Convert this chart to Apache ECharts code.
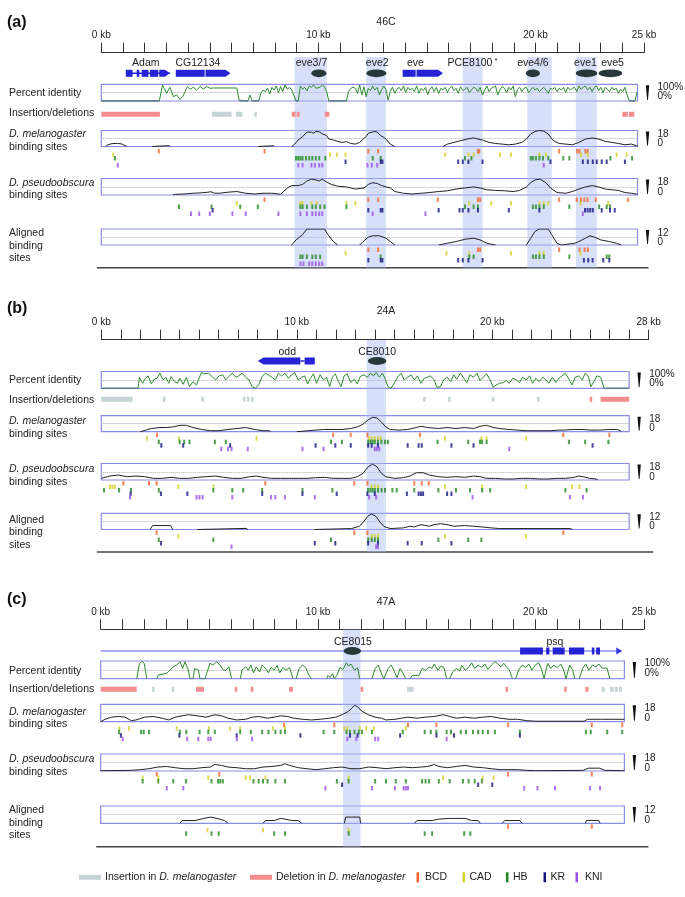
<!DOCTYPE html>
<html><head><meta charset="utf-8">
<script src="https://cdn.jsdelivr.net/npm/echarts/dist/echarts.min.js"></script>
<style>html,body{margin:0;padding:0;background:#fff}#c{width:685px;height:897px}</style>
</head><body><div id="c"></div>
<script>
// ---------------- DATA ----------------
const FACTORS = ['BCD','CAD','HB','KR','KNI'];
const FACTOR_COLORS = ['#f2642c','#d2d22c','#208a20','#14147e','#9a50ea'];

// Panel (a) 46C
const A_pi = [[0,0],[2.67,0],[2.82,96],[3.01,46],[3.16,82],[3.32,26],[3.47,36],[3.63,10],[3.75,26],[3.86,56],[3.96,86],[4.09,70],[4.24,82],[4.39,66],[4.55,86],[4.7,72],[4.86,86],[5.01,76],[5.16,78],[6.24,78],[6.34,6],[6.36,0],[6.75,0],[6.85,36],[6.95,0],[7.25,0],[7.35,46],[7.45,66],[7.56,56],[7.66,76],[7.76,42],[7.86,82],[7.96,66],[8.06,90],[8.16,50],[8.26,86],[8.36,56],[8.46,96],[8.57,70],[8.67,82],[8.77,66],[8.97,0],[9.07,0],[9.17,90],[9.27,70],[9.37,82],[9.47,62],[9.58,90],[9.68,82],[9.78,96],[9.88,76],[10.08,82],[10.18,96],[10.28,86],[10.38,56],[10.48,0],[11.29,0],[11.39,56],[11.49,76],[11.6,82],[11.7,76],[11.8,46],[11.9,96],[12.0,36],[12.1,86],[12.2,26],[12.3,76],[12.4,62],[12.5,90],[12.6,66],[12.71,82],[12.81,36],[12.91,66],[13.01,90],[13.11,70],[13.21,6],[13.31,56],[13.41,82],[13.52,46],[13.62,70],[13.72,82],[13.82,62],[13.92,90],[14.02,50],[14.12,82],[14.22,66],[14.32,76],[14.42,56],[14.53,90],[14.63,46],[14.73,76],[14.83,62],[14.93,82],[15.03,36],[15.13,70],[15.23,86],[15.33,56],[15.43,82],[15.54,46],[15.64,76],[15.74,66],[15.84,82],[15.94,50],[16.04,76],[16.14,90],[16.24,62],[16.34,76],[16.44,46],[16.55,86],[16.65,62],[16.75,70],[16.85,82],[16.95,50],[17.05,66],[17.15,82],[17.25,76],[17.35,56],[17.45,82],[17.56,36],[17.66,66],[17.76,90],[17.86,56],[17.96,76],[18.06,82],[18.16,90],[18.26,36],[18.36,66],[18.46,86],[18.57,76],[18.67,50],[18.77,82],[18.87,66],[18.97,90],[19.07,26],[19.17,70],[19.27,82],[19.37,56],[19.47,76],[19.58,82],[19.68,50],[19.78,66],[19.88,82],[19.98,66],[20.08,76],[20.18,56],[20.28,70],[20.38,82],[20.48,66],[20.59,46],[20.69,76],[20.79,70],[20.89,82],[20.99,56],[21.09,76],[21.19,66],[21.29,82],[21.39,50],[21.49,82],[21.6,66],[21.7,76],[21.8,82],[21.9,56],[22.0,90],[22.1,70],[22.2,82],[22.3,90],[22.4,66],[22.51,82],[22.61,56],[22.71,82],[22.81,90],[22.91,62],[23.01,82],[23.11,50],[23.21,82],[23.31,70],[23.41,56],[23.52,82],[23.62,66],[23.72,76],[23.82,46],[23.92,70],[24.02,56],[24.12,82],[24.22,36],[24.32,0],[24.58,0],[24.68,55]];
const A_mel = [[0.2,0],[0.3,1.9],[0.5,3.3],[0.75,3.5],[0.95,2.8],[1.18,0],null,[2.35,0],[2.42,0.9],[3.1,0.9],[3.18,0],null,[7.23,0],[7.3,0.8],[7.92,0.8],[7.98,0],null,[8.77,0],[8.91,2.7],[9.07,7.3],[9.27,11.1],[9.47,16.1],[9.68,16.1],[9.78,14.9],[9.88,16.9],[10.04,16.5],[10.18,14.2],[10.38,12.3],[10.48,8.4],[10.69,7.3],[10.89,5.7],[11.09,4.6],[11.29,5.4],[11.49,3.4],[11.7,2.7],[11.9,4.6],[12.06,8.4],[12.2,11.1],[12.3,14.9],[12.46,16.1],[12.61,16.9],[12.71,16.1],[12.87,12.3],[13.01,10.3],[13.11,8.4],[13.31,2.7],[13.52,0],null,[15.74,0],[15.94,2.7],[16.24,4.6],[16.55,6.5],[16.85,8.4],[17.15,9.6],[17.35,8.4],[17.56,7.3],[17.86,4.6],[18.16,3.4],[18.46,2.7],[18.77,1.9],[19.07,2.7],[19.37,4.6],[19.58,8.4],[19.78,14.2],[19.98,16.9],[20.18,18],[20.38,17.2],[20.59,14.2],[20.75,8.4],[20.89,5.7],[21.09,3.4],[21.39,2.7],[21.7,1.9],[22.0,4.6],[22.3,8.4],[22.61,9.6],[22.91,8.4],[23.21,5.7],[23.52,4.6],[23.82,3.4],[24.12,1.9],[24.42,2.7],[24.7,0.5]];
const A_pse = [[3.3,0],[3.41,0.8],[3.75,1.0],[4.22,1.9],[4.55,2.3],[4.9,3.0],[5.05,3.6],[5.2,2.0],[5.43,1.9],[5.84,3.1],[6.24,3.8],[6.65,1.9],[7.05,1.1],[7.45,1.9],[7.86,1.9],[8.26,0.8],[8.57,7.7],[8.77,10.3],[9.07,10.3],[9.27,11.5],[9.47,15.3],[9.68,17.2],[9.88,16.5],[10.04,15.3],[10.18,17.2],[10.38,14.2],[10.59,11.5],[10.89,9.6],[11.29,8.8],[11.7,6.5],[12.1,7.7],[12.3,11.5],[12.5,13.4],[12.71,12.6],[12.91,10.3],[13.11,8.8],[13.31,7.7],[13.52,3.8],[13.92,1.9],[14.32,1.1],[14.73,1.9],[15.13,2.7],[15.54,3.8],[15.94,4.6],[16.34,6.5],[16.75,7.7],[17.15,8.8],[17.45,7.7],[17.76,5.7],[18.16,5.0],[18.57,4.6],[18.97,3.8],[19.27,5.0],[19.58,8.8],[19.78,13.4],[19.98,16.5],[20.22,17.2],[20.48,13.4],[20.69,7.7],[20.99,2.7],[21.39,1.9],[21.7,3.8],[22.0,6.5],[22.3,8.8],[22.61,10.3],[22.91,8.8],[23.21,6.5],[23.52,5.7],[23.82,5.0],[24.12,2.7],[24.42,1.9],[24.7,0.8]];
const A_aln = [[8.77,0],[8.97,3.8],[9.27,7.7],[9.47,12],[10.28,12],[10.44,7.7],[10.69,2.6],[10.89,0],null,[11.9,0],[12.06,2.6],[12.3,5.9],[12.5,6.9],[12.81,6.9],[13.11,5.1],[13.31,2.6],[13.52,0],null,[15.54,0],[15.94,1.3],[16.34,2.6],[16.75,4.3],[17.15,5.1],[17.45,3.8],[17.76,1.3],[18.16,0],null,[19.58,0],[19.78,5.1],[19.98,10.2],[20.18,12],[20.59,12],[20.75,7.7],[20.99,1.3],[21.19,0],[21.8,1.3],[22.0,2.6],[22.3,5.1],[22.51,6.9],[22.71,5.9],[23.01,3.8],[23.41,2.6],[23.72,1.3],[23.95,0]];
const A_melSites = [
  [2.65,7.52,12.3,12.75,17.35,17.41,21.09,21.92,22.02,22.3,22.4],
  [0.55,10.53,10.85,11.25,15.84,16.91,17.15,18.36,18.87,20.18,20.48,22.1,22.4,23.74,24.2],
  [0.63,8.97,9.07,9.17,9.27,9.43,9.58,9.72,9.88,10.04,10.32,12.5,12.87,16.75,17.05,19.78,19.88,20.02,20.18,20.34,20.59,21.28,21.56,23.45,24.45],
  [11.25,12.87,12.95,16.44,16.65,16.91,17.56,20.69,22.18,22.41,22.64,22.82,23.05,23.28,24.12],
  [0.76,9.07,9.27,9.68,9.84,10.04,10.18,12.26,12.46,12.71,20.38]
];
const A_pseSites = [
  [7.52,12.3,12.75,15.5,17.35,17.45,21.09,21.9,22.1,22.25,22.4,22.78,24.27],
  [6.24,9.17,9.27,9.68,9.92,11.29,11.7,16.95,17.96,18.87,20.18,20.38,20.59,22.08,23.35],
  [3.58,5.08,6.4,7.21,9.17,9.27,9.47,9.72,9.88,10.08,10.28,11.29,16.75,17.15,17.35,19.88,20.02,20.18,20.38,21.56,22.93,23.28,23.43],
  [5.13,12.3,12.87,12.95,15.54,16.5,16.65,16.91,17.35,18.77,20.18,22.28,22.4,22.52,22.64,23.05,23.43,23.65],
  [4.13,4.51,5.0,6.04,6.65,8.16,9.17,9.47,9.72,9.88,10.04,10.18,12.5,14.93,22.18]
];
const A_alnSites = [
  [12.3,12.75,17.35,17.45,21.09,22.03,22.26,22.41],
  [11.25,15.9,16.95,18.87,20.18,20.38,22.08],
  [9.17,9.27,9.47,9.72,9.88,10.08,12.87,16.95,17.15,19.88,20.02,20.18,20.38,21.56,23.28,23.4],
  [12.3,12.87,12.95,16.44,16.65,16.91,17.56,22.23,22.43,22.63,23.12,23.4],
  [9.17,9.31,9.58,9.72,9.88,10.04,10.18]
];
const A_insertions = [[5.1,6.0],[6.2,6.5],[7.05,7.15]];
const A_deletions = [[0,2.7],[8.77,8.95],[9.0,9.13],[10.3,10.5],[24.0,24.25],[24.3,24.55]];
const A_bands = [[8.9,10.39],[12.2,13.11],[16.65,17.56],[19.62,20.75],[21.86,22.82]];
const A_geneParts = [[1.13,3.16,'line'],[1.13,1.44,'box'],[1.63,1.75,'box'],[1.86,2.17,'box'],[2.24,2.62,'box'],[2.67,3.16,'right'],[3.43,4.76,'box'],[4.8,5.95,'right'],[13.88,14.48,'box'],[14.52,15.74,'right']];
const A_elements = [[10.02,0.7],[12.67,0.92],[19.88,0.65],[22.35,1.0],[23.45,1.1]];
const A_geneLabels = [['Adam',2.05],['CG12134',4.45],['eve3/7',9.68],['eve2',12.71],['eve',14.47],['PCE8100*',17.1],['eve4/6',19.88],['eve1',22.3],['eve5',23.55]];

// Panel (b) 24A
const B_pi = [[0,0],[1.88,0],[1.95,66],[2.11,30],[2.26,60],[2.4,74],[2.56,26],[2.71,54],[2.85,60],[3.0,90],[3.16,50],[3.3,66],[3.45,30],[3.57,70],[3.74,40],[3.9,30],[4.01,60],[4.19,24],[4.35,66],[4.51,10],[4.69,40],[4.87,20],[5.02,66],[5.13,94],[5.25,86],[5.47,90],[5.7,66],[5.85,50],[6.03,74],[6.21,80],[6.37,50],[6.52,70],[6.7,90],[6.88,66],[7.04,74],[7.2,90],[7.38,66],[7.56,50],[7.71,10],[7.87,0],[8.05,20],[8.23,70],[8.39,90],[8.54,80],[8.72,66],[8.9,50],[9.06,90],[9.22,74],[9.39,90],[9.57,60],[9.73,80],[9.89,94],[10.07,50],[10.25,66],[10.4,74],[10.56,26],[10.7,60],[10.85,86],[11.01,30],[11.19,80],[11.37,50],[11.52,66],[11.68,10],[11.82,66],[11.97,86],[12.13,40],[12.26,10],[12.42,74],[12.58,86],[12.76,34],[12.94,54],[13.09,26],[13.25,70],[13.43,80],[13.61,66],[13.77,90],[13.92,74],[14.06,94],[14.22,66],[14.37,90],[14.51,60],[14.66,10],[14.82,0],[15.0,34],[15.18,70],[15.34,90],[15.49,50],[15.67,66],[15.85,80],[16.01,50],[16.17,74],[16.35,30],[16.52,60],[16.68,66],[16.84,74],[17.02,50],[17.17,6],[17.35,10],[17.51,50],[17.69,66],[17.87,40],[18.03,80],[18.18,54],[18.36,90],[18.54,60],[18.7,34],[18.86,80],[19.04,66],[19.22,90],[19.37,46],[19.53,66],[19.71,86],[19.89,50],[20.04,6],[20.2,20],[20.38,30],[20.56,34],[20.72,46],[20.87,30],[21.05,60],[21.23,50],[21.39,34],[21.55,66],[21.73,50],[21.91,74],[22.06,30],[22.22,60],[22.4,40],[22.58,66],[22.74,50],[22.89,30],[23.07,66],[23.25,34],[23.41,60],[23.57,74],[23.74,90],[23.92,54],[24.08,20],[24.24,66],[24.42,74],[24.6,50],[24.75,90],[24.91,74],[25.04,10],[25.2,40],[25.36,74],[25.54,66],[25.72,0],[27.0,0]];
const B_mel = [[2.0,0],[2.1,1.1],[2.56,3.6],[3.0,4.7],[3.34,4.7],[3.68,5.4],[4.01,7.2],[4.35,7.2],[4.69,4.7],[5.13,2.5],[5.58,1.1],[6.03,1.1],[6.48,2.5],[6.93,3.6],[7.38,4.7],[7.83,2.5],[8.27,1.1],[8.61,1.1],[8.65,0],null,[10.0,0],[10.07,1.8],[10.96,1.8],[11.41,2.5],[11.86,2.5],[12.31,2.5],[12.76,3.6],[13.1,5.4],[13.38,8.3],[13.65,13.3],[13.88,16.2],[14.1,15.5],[14.33,10.8],[14.55,5.4],[14.78,2.5],[15.22,1.8],[15.67,2.5],[16.12,4.7],[16.35,6.1],[16.68,4.7],[17.24,3.6],[17.69,4.7],[18.14,3.6],[18.59,4.7],[19.04,3.6],[19.37,6.1],[19.71,7.2],[20.04,4.7],[20.38,3.6],[20.83,2.5],[21.28,1.8],[21.73,1.1],[22.6,1.1],[23.0,1.1],[23.36,1.8],[23.68,1.8],[24.14,2.5],[24.59,2.5],[25.04,1.8],[25.49,1.8],[25.94,2.5],[26.39,2.5],[26.55,1.1],[26.6,0]];
const B_pse = [[0,1.8],[0.43,4.3],[0.87,5.4],[1.32,3.6],[1.77,4.3],[2.22,3.6],[2.67,1.8],[3.12,1.8],[3.57,2.9],[4.01,1.8],[4.46,1.8],[4.91,2.9],[5.36,3.6],[5.81,4.3],[6.26,2.9],[6.7,1.8],[7.15,1.8],[7.6,3.6],[7.94,4.3],[8.27,2.9],[8.72,1.8],[9.17,1.8],[9.62,1.8],[10.07,1.8],[10.52,1.8],[10.96,2.5],[11.41,2.9],[11.86,1.8],[12.31,1.8],[12.76,1.8],[13.09,3.6],[13.39,7.2],[13.65,14.4],[13.88,17.3],[14.1,14.4],[14.33,7.2],[14.55,3.6],[15.0,1.8],[15.45,2.5],[15.78,4.3],[16.12,7.9],[16.46,7.9],[16.79,5.4],[17.24,3.6],[17.69,2.9],[18.14,3.6],[18.59,2.9],[19.04,4.3],[19.37,3.6],[19.71,1.8],[20.16,1.8],[20.61,1.1],[21.05,1.1],[21.5,1.8],[21.95,1.8],[22.4,1.1],[22.85,1.1],[23.3,1.8],[23.74,1.8],[24.19,2.9],[24.42,4.3],[24.64,3.6],[24.98,1.8],[25.31,1.1],[25.4,0]];
const B_aln = [[2.5,0],[2.62,2.9],[3.55,2.9],[3.65,0],null,[4.9,0],[5.0,0.8],[7.4,0.8],[7.5,0],null,[10.9,0],[11.0,0.7],[12.8,0.7],[13.21,2.4],[13.43,6],[13.65,10.1],[13.83,11.5],[14.06,9.6],[14.28,4.8],[14.51,1.9],[14.78,0.7],[15.45,1.2],[15.78,2.4],[16.01,1.9],[16.35,3.6],[16.79,2.4],[17.02,3.6],[17.35,4.3],[17.69,3.6],[18.03,2.4],[18.59,2.9],[19.04,2.4],[19.48,1.9],[19.93,1.2],[20.38,0.7],[23.97,0.7],[24.1,0]];
const B_melSites = [
  [2.85,11.86,12.76,13.61,16.3,23.63,25.99],
  [2.33,3.97,7.94,13.7,13.83,13.99,14.15,14.28,17.58,19.44,19.71,21.73],
  [2.94,4.01,4.24,4.51,5.81,6.37,11.75,12.31,13.65,13.77,13.88,13.99,14.15,14.33,14.51,14.66,17.2,18.77,19.37,19.48,19.71,23.92,24.75,25.94],
  [3.07,4.19,6.59,10.96,11.97,12.76,13.65,13.83,14.15,15.67,16.23,16.39,17.91,19.04,25.13],
  [6.14,6.48,6.66,7.49,10.29,11.37,13.99,14.1,14.22,20.87]
];
const B_pseSites = [
  [1.13,2.44,2.83,8.39,12.94,13.61,16.01,16.39,16.75],
  [0.45,0.57,0.69,3.94,5.73,13.83,13.99,14.15,17.58,19.48,21.73,24.08,24.46],
  [0.14,0.91,1.52,2.94,5.73,6.7,7.26,8.23,10.29,11.82,13.65,13.77,13.88,13.99,14.15,14.33,14.51,14.89,15.11,16.01,17.24,18.14,18.86,19.48,19.89,23.74,24.82],
  [1.5,3.05,4.4,8.23,10.29,12.04,13.61,13.99,15.63,16.23,16.35,16.46,17.69,17.91],
  [1.47,4.87,5.02,5.18,6.7,8.68,8.9,9.39,10.92,13.7,14.06,18.99,23.97,24.64]
];
const B_alnSites = [
  [2.83,12.94,13.61,23.63],
  [3.94,13.83,13.99,14.15,17.58,21.73],
  [2.94,5.73,11.75,13.65,13.83,13.99,14.15,17.24,18.77,19.44],
  [3.05,10.92,11.97,13.65,14.15,15.67,16.39,17.91],
  [6.66,14.06,14.15]
];
const B_insertions = [[0,1.6],[3.15,3.27],[5.12,5.24],[7.25,7.35],[7.45,7.55],[7.66,7.76],[16.46,16.58],[17.74,17.86],[19.98,20.1],[22.29,22.41]];
const B_deletions = [[24.98,25.1],[25.54,27.0]];
const B_bands = [[13.57,14.56]];
const B_geneParts = [[8.0,10.18,'left'],[10.18,10.4,'line'],[10.4,10.92,'box']];
const B_elements = [[14.11,0.95]];
const B_geneLabels = [['odd',9.51],['CE8010',14.11]];

// Panel (c) 47A
const C_pi = [[1.66,0],[1.78,85],[1.9,98],[2.0,88],[2.12,0],null,[2.58,0],[2.65,21],[3.04,30],[3.34,68],[3.5,77],[3.65,96],[3.77,58],[3.88,96],[4.03,49],[4.11,0],[4.25,0],[4.32,58],[4.49,49],[4.57,0],[4.8,0],[4.88,30],[5.03,87],[5.18,77],[5.34,96],[5.49,77],[5.64,49],[5.76,48],[5.9,67],[6.02,0],null,[6.42,0],[6.5,48],[6.67,67],[6.79,48],[6.91,77],[7.03,33],[7.17,67],[7.31,38],[7.43,77],[7.58,58],[7.72,33],[7.84,63],[7.98,48],[8.12,75],[8.24,33],[8.38,63],[8.53,48],[8.69,63],[8.85,0],null,[8.99,0],[9.13,58],[9.29,77],[9.43,63],[9.56,25],[9.7,0],null,[10.4,0],[10.46,19],[10.55,6],[10.67,29],[10.75,0],[10.87,19],[11.01,63],[11.15,52],[11.31,90],[11.41,71],[11.52,83],[11.68,48],[11.82,63],[11.92,0],null,[12.48,0],[12.63,58],[12.77,77],[12.89,38],[13.03,0],[13.23,58],[13.37,77],[13.49,48],[13.64,6],[13.78,58],[13.9,33],[14.04,0],null,[14.24,0],[14.34,19],[14.65,19],[14.79,58],[14.95,48],[15.11,67],[15.25,58],[15.35,83],[15.52,48],[15.66,71],[15.8,63],[15.92,0],null,[16.06,0],[16.2,38],[16.36,58],[16.53,44],[16.61,77],[16.77,48],[16.93,63],[17.07,90],[17.21,58],[17.37,77],[17.54,63],[17.68,83],[17.82,52],[17.98,77],[18.14,96],[18.28,83],[18.42,67],[18.55,87],[18.69,63],[18.79,52],[18.95,0],null,[19.09,0],[19.23,48],[19.39,77],[19.56,63],[19.7,83],[19.84,48],[20.0,77],[20.16,90],[20.3,48],[20.4,0],[20.57,87],[20.71,58],[20.85,77],[21.01,63],[21.17,83],[21.31,48],[21.41,0],[21.58,77],[21.72,48],[21.82,0],null,[22.02,0],[22.18,58],[22.32,83],[22.46,48],[22.63,77],[22.79,67],[22.93,83],[23.07,60],[23.3,60],[23.43,0]];
const C_mel = [[0,0],[0.2,2.5],[0.51,4.7],[0.81,5.4],[1.11,4.7],[1.41,1.1],[1.62,1.8],[2.02,4.7],[2.42,5.4],[2.83,3.6],[3.13,1.8],[3.43,4.7],[3.74,6.1],[4.04,7.2],[4.44,6.1],[4.85,4.7],[5.25,7.2],[5.56,6.1],[5.86,3.6],[6.26,1.8],[6.67,2.5],[6.97,4.7],[7.27,5.4],[7.68,3.6],[7.98,4.7],[8.28,6.1],[8.59,5.4],[8.89,3.6],[9.29,2.5],[9.7,1.8],[10.1,2.5],[10.51,3.6],[10.81,4.7],[11.11,7.2],[11.41,10.8],[11.68,16.9],[11.82,15.5],[12.02,10.8],[12.32,7.2],[12.63,4.7],[12.93,3.6],[13.13,1.8],[13.54,2.5],[13.84,3.6],[14.14,4.7],[14.55,3.6],[14.95,4.7],[15.35,5.4],[15.76,7.2],[16.06,5.4],[16.36,3.6],[16.77,4.7],[17.17,3.6],[17.58,4.7],[17.98,5.4],[18.38,3.6],[18.79,2.5],[19.19,2.5],[19.6,1.1],[20.0,0.5],[22.25,0.5],[22.4,2.5],[23.0,2.5],[23.06,3.2],[23.12,2.5],[24.1,2.5]];
const C_pse = [[0,0.3],[1.41,0.7],[1.82,1.4],[2.22,2.4],[2.63,4.2],[3.03,4.8],[3.43,3.5],[3.84,2.4],[4.24,2.4],[4.65,3.5],[5.05,4.2],[5.25,6.9],[5.56,5.9],[5.86,4.2],[6.26,3.5],[6.67,2.4],[7.07,2.4],[7.47,4.2],[7.88,4.8],[8.28,5.9],[8.48,7.6],[8.69,5.9],[9.09,3.5],[9.49,2.4],[9.9,1.4],[10.3,2.4],[10.71,3.5],[11.11,4.2],[11.52,2.4],[11.92,2.4],[12.32,4.2],[12.73,3.5],[13.13,2.4],[13.54,3.5],[13.94,4.2],[14.34,3.5],[14.75,4.2],[15.05,4.8],[15.35,6.9],[15.56,4.8],[15.96,3.5],[16.36,4.8],[16.77,5.9],[17.17,4.2],[17.58,3.5],[17.98,2.4],[18.38,1.4],[18.79,1.4],[19.19,1.4],[19.6,0.7],[20.0,0.3],[22.2,0.7],[22.45,3.0],[22.95,3.0],[23.2,0.7],[24.1,0.3]];
const C_aln = [[3.64,0],[3.74,1.9],[4.34,1.9],[4.75,3.4],[5.05,4.3],[5.35,3.4],[5.7,1.9],[5.86,0],null,[7.47,0],[7.58,1.9],[7.98,1.9],[8.28,3.4],[8.48,2.9],[8.79,1.9],[9.09,1.9],[9.25,0],null,[11.21,0],[11.27,4.3],[11.92,4.3],[11.96,0],null,[14.44,0],[14.55,1.9],[15.25,1.9],[15.56,2.9],[16.06,3.4],[16.77,3.4],[17.07,1.9],[17.37,1.9],[17.47,0],null,[18.48,0],[18.59,1.9],[19.29,1.9],[19.39,0],null,[22.3,0],[22.36,2.0],[22.92,2.0],[22.98,0]];
const C_melSites = [
  [8.44,10.75,14.14,15.45,18.75,22.6,24.0],
  [0.86,1.3,3.5,4.98,5.96,6.42,7.92,8.48,11.21,11.35,11.92,12.22,12.57,14.04],
  [0.85,1.86,1.98,2.22,3.64,3.94,4.55,4.95,5.25,6.42,6.91,7.43,7.72,8.04,8.28,8.48,10.26,10.75,11.31,11.47,11.68,11.88,12.02,12.48,13.9,14.91,15.19,15.45,15.92,16.12,16.57,16.81,17.13,17.37,17.58,17.82,18.14,19.29,22.33,22.55,23.31,24.0],
  [0.93,3.62,6.26,9.19,11.47,11.82,13.78,15.45,16.26,19.29],
  [1.01,3.98,4.49,4.95,5.06,6.26,6.97,11.35,11.76,12.63,12.77,15.92]
];
const C_pseSites = [
  [2.58,5.46,18.75,22.6],
  [1.93,2.65,4.95,6.67,6.87,7.58,11.41,15.76,17.58,18.08],
  [1.93,2.65,3.34,3.93,5.1,5.4,5.5,5.62,7.03,7.27,7.47,7.68,8.04,8.48,10.87,11.41,12.63,13.13,13.58,14.04,14.79,14.95,15.11,15.56,16.06,16.67,16.93,17.21,17.54],
  [11.11,17.37,18.02],
  [3.04,3.8,10.34,12.48,13.54,13.94,14.04,14.14,19.49,20.1,20.91,22.52,22.98]
];
const C_alnSites = [
  [18.75,22.6],
  [4.91,7.47,11.41],
  [3.93,5.1,5.43,7.98,8.48,11.41,14.91,15.25,16.73,17.01],
  [],
  []
];
const C_insertions = [[2.36,2.48],[3.27,3.39],[14.1,14.4],[23.05,23.2],[23.44,23.6],[23.65,23.8],[23.85,23.98]];
const C_deletions = [[0,1.66],[4.39,4.75],[6.17,6.28],[6.91,7.03],[8.67,8.85],[11.96,12.08],[18.63,18.75],[21.33,21.45],[22.3,22.45]];
const C_bands = [[11.15,11.96]];
const C_geneParts = [[0,24.0,'arrowLine'],[19.3,20.35,'box'],[20.5,20.65,'box'],[20.8,21.35,'box'],[21.55,22.25,'box'],[22.6,22.72,'box'],[22.8,22.98,'box']];
const C_elements = [[11.58,0.8]];
const C_geneLabels = [['CE8015',11.61],['psq',20.9]];

const TRACK_LABELS = ['Percent identity','Insertion/deletions','D. melanogaster','binding sites','D. pseudoobscura','binding sites','Aligned','binding','sites'];
const LEGEND_ITEMS = ['Insertion in |D. melanogaster','Deletion in |D. melanogaster','BCD','CAD','HB','KR','KNI'];

// ---------------- LAYOUT ----------------
const FONT = '"Liberation Sans", Arial, Helvetica, sans-serif';
const INS_COLOR = '#c6d4d5', DEL_COLOR = '#f48d8d';
const BOX_COLOR = '#8c8ce8';
const PANELS = [
  {letter:'(a)', region:'46C', x0:101.3, ppk:21.71, axisMax:25, seqLen:24.7, letterY:22.7, regionY:22, baseY:52.7, geneLabelY:63.3, geneY:73.3,
   pi:[84.3,101], indelY:114.3, mel:[130.5,146.5], pse:[178.5,195], aln:[229,245], tickOff:3, bottomY:267.7, bandTop:57,
   labelYs:[93,113.3,134,146.7,182.7,195,232.7,246,257.7],
   piD:A_pi, melD:A_mel, pseD:A_pse, alnD:A_aln, melS:A_melSites, pseS:A_pseSites, alnS:A_alnSites, ins:A_insertions, del:A_deletions, bands:A_bands, genes:A_geneParts, els:A_elements, labels:A_geneLabels},
  {letter:'(b)', region:'24A', x0:101.3, ppk:19.55, axisMax:28, seqLen:27.0, letterY:308.3, regionY:310.7, baseY:339.7, geneLabelY:351.7, geneY:361,
   pi:[371.5,388.3], indelY:399.3, mel:[415.7,431.7], pse:[463.5,480], aln:[513.3,529.5], tickOff:1.5, bottomY:552, bandTop:340,
   labelYs:[380,400,421,434.3,469,481.7,520,532.3,545],
   piD:B_pi, melD:B_mel, pseD:B_pse, alnD:B_aln, melS:B_melSites, pseS:B_pseSites, alnS:B_alnSites, ins:B_insertions, del:B_deletions, bands:B_bands, genes:B_geneParts, els:B_elements, labels:B_geneLabels},
  {letter:'(c)', region:'47A', x0:100.7, ppk:21.73, axisMax:25, seqLen:24.1, letterY:600, regionY:601.7, baseY:629.3, geneLabelY:641.7, geneY:651,
   pi:[661,678.7], indelY:689.3, mel:[704.3,721.7], pse:[754,771], aln:[806,823.3], tickOff:1.5, bottomY:846.7, bandTop:629.5,
   labelYs:[670.7,689.3,711.7,724,759,771.7,810,822.7,835],
   piD:C_pi, melD:C_mel, pseD:C_pse, alnD:C_aln, melS:C_melSites, pseS:C_pseSites, alnS:C_alnSites, ins:C_insertions, del:C_deletions, bands:C_bands, genes:C_geneParts, els:C_elements, labels:C_geneLabels}
];

// ---------------- BUILD ----------------
const option = {animation:false, backgroundColor:'#fff', grid:[], xAxis:[], yAxis:[], series:[], graphic:[]};
let gi = 0;
function addGrid(g, xa, ya){
  option.grid.push(Object.assign({}, g));
  option.xAxis.push(Object.assign({gridIndex:gi, type:'value', show:false}, xa));
  option.yAxis.push(Object.assign({gridIndex:gi, type:'value', show:false}, ya));
  return gi++;
}
function withGaps(arr){
  const out = [];
  arr.forEach((p,i)=>{ if (p === null) out.push([arr[i-1][0], '-']); else out.push(p); });
  return out;
}
// parts of a percent-identity profile lying flat at 0 (no alignment)
function zeroRuns(arr){
  return withGaps(arr).map(p => (p[1] === 0 ? [p[0], 0] : [p[0], '-']));
}
const KIND = {box:0, right:1, left:2, line:3, arrowLine:4};
const GENE_BLUE = '#2424d6';
function geneRender(params, api){
  const s = api.coord([api.value(0), 0.5]), e = api.coord([api.value(1), 0.5]);
  const k = api.value(2), y = s[1], h = 7, x1 = s[0], x2 = e[0];
  if (k === 0) return {type:'rect', shape:{x:x1, y:y-h/2, width:x2-x1, height:h}, style:{fill:GENE_BLUE}};
  if (k === 1) return {type:'polygon', shape:{points:[[x1,y-h/2],[x2-5,y-h/2],[x2,y],[x2-5,y+h/2],[x1,y+h/2]]}, style:{fill:GENE_BLUE}};
  if (k === 2) return {type:'polygon', shape:{points:[[x2,y-h/2],[x1+6,y-h/2],[x1,y],[x1+6,y+h/2],[x2,y+h/2]]}, style:{fill:GENE_BLUE}};
  if (k === 3) return {type:'line', shape:{x1:x1, y1:y, x2:x2, y2:y}, style:{stroke:GENE_BLUE, lineWidth:1.5}};
  return {type:'group', children:[
    {type:'line', shape:{x1:x1, y1:y, x2:x2-4, y2:y}, style:{stroke:'#5a5aea', lineWidth:1.2}},
    {type:'polygon', shape:{points:[[x2-6,y-3.5],[x2,y],[x2-6,y+3.5]]}, style:{fill:'#3434e0'}}
  ]};
}
function ellipseRender(params, api){
  const c = api.coord([api.value(0), 0.5]);
  const rx = api.size([api.value(1), 0])[0] / 2, ry = 3.9;
  return {type:'circle', shape:{cx:0, cy:0, r:ry}, x:c[0], y:c[1], scaleX:rx/ry, style:{fill:'#283838'}};
}
function labelRenderer(labels){
  return function(params, api){
    const c = api.coord([api.value(0), 0.5]);
    const name = labels[params.dataIndex][0];
    if (name.endsWith('*')) {
      return {type:'text', x:c[0], y:c[1], style:{text:'{m|' + name.slice(0,-1) + '}{s|*}', align:'center', verticalAlign:'middle',
        rich:{m:{fontSize:10.5, fontFamily:FONT, fill:'#222'}, s:{fontSize:8, fontFamily:FONT, fill:'#222', padding:[0,0,6,2]}}}};
    }
    return {type:'text', x:c[0], y:c[1], style:{text:name, fontSize:10.5, fontFamily:FONT, fill:'#222', align:'center', verticalAlign:'middle'}};
  };
}
function spanRender(color){
  return function(params, api){
    const a = api.coord([api.value(0), 1]), b = api.coord([api.value(1), 0]);
    return {type:'rect', shape:{x:a[0], y:a[1], width:Math.max(b[0]-a[0], 2.5), height:b[1]-a[1]}, style:{fill:color}};
  };
}
function text(x, y, t, opts){
  option.graphic.push({type:'text', x:x, y:y, silent:true, style:Object.assign({text:t, fontSize:10.5, fontFamily:FONT, fill:'#222', align:'left', verticalAlign:'middle'}, opts||{})});
}

PANELS.forEach(P => {
  const W = P.axisMax * P.ppk, SW = P.seqLen * P.ppk, right = P.x0 + SW;
  // top kb axis
  addGrid({left:P.x0, top:P.baseY-20, width:W, height:20},
    {show:true, min:0, max:P.axisMax, interval:1, position:'bottom',
     axisLine:{show:true, lineStyle:{color:'#333', width:1}},
     axisTick:{show:true, inside:true, length:10, lineStyle:{color:'#333', width:1}},
     axisLabel:{show:true, inside:true, margin:12, interval:0, showMinLabel:true, showMaxLabel:true, fontSize:10, fontFamily:FONT, color:'#222',
       formatter: v => (v % 10 === 0 || v === P.axisMax) ? v + ' kb' : ''},
     splitLine:{show:false}},
    {min:0, max:1});
  // highlight bands
  const gB = addGrid({left:P.x0, top:P.bandTop, width:SW, height:P.bottomY-P.bandTop}, {min:0, max:P.seqLen}, {min:0, max:1});
  option.series.push({type:'custom', xAxisIndex:gB, yAxisIndex:gB, z:1, silent:true, data:P.bands, renderItem:spanRender('rgba(168,184,240,0.45)')});
  // gene labels
  const gL = addGrid({left:P.x0, top:P.geneLabelY-6, width:W, height:12}, {min:0, max:P.axisMax}, {min:0, max:1});
  option.series.push({type:'custom', xAxisIndex:gL, yAxisIndex:gL, z:4, silent:true, data:P.labels.map(l => [l[1]]), renderItem:labelRenderer(P.labels)});
  // gene models
  const gG = addGrid({left:P.x0, top:P.geneY-5, width:W, height:10}, {min:0, max:P.axisMax}, {min:0, max:1});
  option.series.push({type:'custom', xAxisIndex:gG, yAxisIndex:gG, z:4, silent:true, data:P.genes.map(g => [g[0], g[1], KIND[g[2]]]), renderItem:geneRender});
  option.series.push({type:'custom', xAxisIndex:gG, yAxisIndex:gG, z:5, silent:true, data:P.els, renderItem:ellipseRender});

  function boxTrack(range, ymax, data, color, isPi){
    const g = addGrid({left:P.x0, top:range[0], width:SW, height:range[1]-range[0], show:true, borderColor:BOX_COLOR, borderWidth:1.2, backgroundColor:'rgba(0,0,0,0)'},
      {min:0, max:P.seqLen},
      {show:true, min:0, max:ymax, interval:ymax/2, axisLine:{show:false}, axisTick:{show:false}, axisLabel:{show:false},
       splitLine:{show:true, showMinLine:false, showMaxLine:false, lineStyle:{type:'dotted', color:'#b0b0b0', width:1}}});
    option.series.push({type:'line', xAxisIndex:g, yAxisIndex:g, data:withGaps(data), showSymbol:false, symbol:'none', connectNulls:false, silent:true, z:3,
      lineStyle:{color:color, width:1}});
    if (isPi) {
      option.series.push({type:'line', xAxisIndex:g, yAxisIndex:g, data:zeroRuns(data), showSymbol:false, symbol:'none', connectNulls:false, silent:true, z:4,
        lineStyle:{color:'#5d7896', width:1.3}});
    }
  }
  function siteTrack(boxBottom, sites){
    const g = addGrid({left:P.x0, top:boxBottom + P.tickOff, width:SW, height:17.5}, {min:0, max:P.seqLen},
      {type:'category', data:FACTORS, inverse:true, show:false});
    FACTORS.forEach((f, i) => {
      option.series.push({type:'scatter', name:f, xAxisIndex:g, yAxisIndex:g, silent:true, z:3, symbol:'rect', symbolSize:[2,4.5],
        itemStyle:{color:FACTOR_COLORS[i]}, data:sites[i].map(x => [x, i])});
    });
  }
  boxTrack(P.pi, 100, P.piD, '#2e8b2e', true);
  const gI = addGrid({left:P.x0, top:P.indelY-2.5, width:SW, height:5}, {min:0, max:P.seqLen}, {min:0, max:1});
  option.series.push({type:'custom', xAxisIndex:gI, yAxisIndex:gI, z:3, silent:true, data:P.ins, renderItem:spanRender(INS_COLOR)});
  option.series.push({type:'custom', xAxisIndex:gI, yAxisIndex:gI, z:3, silent:true, data:P.del, renderItem:spanRender(DEL_COLOR)});
  boxTrack(P.mel, 18, P.melD, '#222', false); siteTrack(P.mel[1], P.melS);
  boxTrack(P.pse, 18, P.pseD, '#222', false); siteTrack(P.pse[1], P.pseS);
  boxTrack(P.aln, 12, P.alnD, '#222', false); siteTrack(P.aln[1], P.alnS);

  text(7, P.letterY, P.letter, {fontSize:16, fontWeight:'bold', fill:'#111'});
  text(386, P.regionY, P.region, {align:'center', fontSize:10.5});
  const ly = P.labelYs;
  TRACK_LABELS.forEach((t, i) => {
    const ital = (i === 2 || i === 4);
    text(9, ly[i], t, ital ? {fontStyle:'italic'} : {});
  });
  function marker(range, t1, t2, isPi){
    const x = right + 10, top = range[0], bot = range[1];
    option.graphic.push({type:'polygon', silent:true, shape:{points:[[x-1.7,top+1],[x+1.7,top+1],[x+0.4,bot-1],[x-0.4,bot-1]]}, style:{fill:'#111'}});
    text(right+20, isPi ? top+2.5 : top+4, t1, {fontSize:10});
    text(right+20, isPi ? top+12 : bot-3, t2, {fontSize:10});
  }
  marker(P.pi, '100%', '0%', true);
  marker(P.mel, '18', '0', false);
  marker(P.pse, '18', '0', false);
  marker(P.aln, '12', '0', false);
  option.graphic.push({type:'line', silent:true, shape:{x1:P.x0-4.5, y1:P.bottomY, x2:P.x0+W+4.5, y2:P.bottomY}, style:{stroke:'#444', lineWidth:1.5}});
});

// legend
(function(){
  const y = 877.3;
  const rich = {n:{fontSize:10.5, fontFamily:FONT, fill:'#222'}, i:{fontSize:10.5, fontFamily:FONT, fill:'#222', fontStyle:'italic'}};
  const spans = [[79, INS_COLOR, 105], [250, DEL_COLOR, 276]];
  spans.forEach((s, k) => {
    option.graphic.push({type:'rect', silent:true, shape:{x:s[0], y:y-2.5, width:22, height:5}, style:{fill:s[1]}});
    const parts = LEGEND_ITEMS[k].split('|');
    option.graphic.push({type:'text', silent:true, x:s[2], y:y, style:{text:'{n|' + parts[0] + '}{i|' + parts[1] + '}', rich:rich, align:'left', verticalAlign:'middle'}});
  });
  const ticks = [[416.5, 425], [462.5, 469.5], [506, 513], [543.5, 550.5], [575.5, 585]];
  ticks.forEach((t, k) => {
    option.graphic.push({type:'rect', silent:true, shape:{x:t[0], y:y-5, width:2.5, height:10}, style:{fill:FACTOR_COLORS[k]}});
    text(t[1], y, LEGEND_ITEMS[k+2]);
  });
})();

const chart = echarts.init(document.getElementById('c'), null, {renderer:'canvas'});
chart.setOption(option);
</script></body></html>
